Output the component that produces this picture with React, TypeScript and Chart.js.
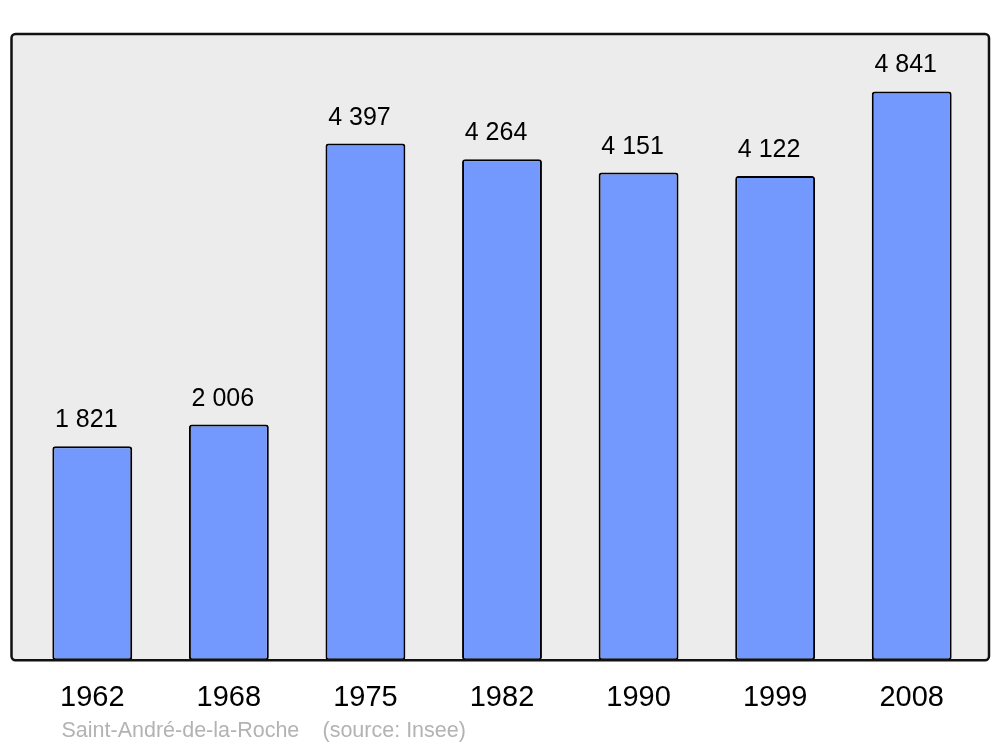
import React, { useEffect, useRef } from "react";
import { Chart, registerables } from "chart.js";

Chart.register(...registerables);

const years = ["1962", "1968", "1975", "1982", "1990", "1999", "2008"];
const population = [1821, 2006, 4397, 4264, 4151, 4122, 4841];
const valueLabels = ["1 821", "2 006", "4 397", "4 264", "4 151", "4 122", "4 841"];
const sourceName = "Saint-André-de-la-Roche";
const sourceNote = "(source: Insee)";

const FONT = "'Liberation Sans', Arial, sans-serif";

function roundRect(ctx: CanvasRenderingContext2D, x: number, y: number, w: number, h: number, r: number) {
  ctx.beginPath();
  ctx.moveTo(x + r, y);
  ctx.lineTo(x + w - r, y);
  ctx.arcTo(x + w, y, x + w, y + r, r);
  ctx.lineTo(x + w, y + h - r);
  ctx.arcTo(x + w, y + h, x + w - r, y + h, r);
  ctx.lineTo(x + r, y + h);
  ctx.arcTo(x, y + h, x, y + h - r, r);
  ctx.lineTo(x, y + r);
  ctx.arcTo(x, y, x + r, y, r);
  ctx.closePath();
}

const framePlugin = {
  id: "frame",
  beforeDatasetsDraw(chart: any) {
    const { ctx, chartArea } = chart;
    ctx.save();
    roundRect(ctx, chartArea.left - 12.5, chartArea.top, chartArea.right - chartArea.left + 21.5, chartArea.bottom - chartArea.top, 4);
    ctx.fillStyle = "#ececec";
    ctx.fill();
    ctx.restore();
  },
  afterDatasetsDraw(chart: any) {
    const { ctx, chartArea } = chart;
    ctx.save();
    roundRect(ctx, chartArea.left - 12.5, chartArea.top, chartArea.right - chartArea.left + 21.5, chartArea.bottom - chartArea.top, 4);
    ctx.lineWidth = 2.5;
    ctx.strokeStyle = "#111";
    ctx.stroke();

    const meta = chart.getDatasetMeta(0);
    ctx.fillStyle = "#000";
    ctx.font = `25px ${FONT}`;
    ctx.textAlign = "center";
    ctx.textBaseline = "alphabetic";
    meta.data.forEach((bar: any, i: number) => {
      ctx.fillText(valueLabels[i], bar.x - 6, bar.y - 19);
    });

    ctx.fillStyle = "#b3b3b3";
    ctx.font = `21.5px ${FONT}`;
    ctx.textAlign = "left";
    ctx.fillText(sourceName, chartArea.left + 37.5, chart.height - 10);
    ctx.fillText(sourceNote, chartArea.left + 298.5, chart.height - 10);
    ctx.restore();
  },
};

export default function App() {
  const ref = useRef<HTMLCanvasElement>(null);
  useEffect(() => {
    document.body.style.margin = "0";
    const chart = new Chart(ref.current!, {
      type: "bar",
      data: {
        labels: years,
        datasets: [
          {
            data: population,
            backgroundColor: "#7399ff",
            borderColor: "#000",
            borderWidth: 2,
            borderRadius: 3,
            borderSkipped: false,
            barPercentage: 0.585,
            categoryPercentage: 1,
          },
        ],
      },
      options: {
        animation: false,
        responsive: false,
        layout: { padding: { left: 24, right: 20, top: 34, bottom: 12 } },
        plugins: { legend: { display: false }, tooltip: { enabled: false } },
        scales: {
          x: {
            grid: { display: false, drawTicks: false },
            border: { display: false },
            ticks: { color: "#000", font: { size: 29, family: FONT }, padding: 20 },
          },
          y: { display: false, min: 0, max: 5330 },
        },
      },
      plugins: [framePlugin],
    });
    return () => chart.destroy();
  }, []);
  return (
    <div style={{ width: 1000, height: 747 }}>
      <canvas ref={ref} width={1000} height={747} style={{ display: "block" }} />
    </div>
  );
}
